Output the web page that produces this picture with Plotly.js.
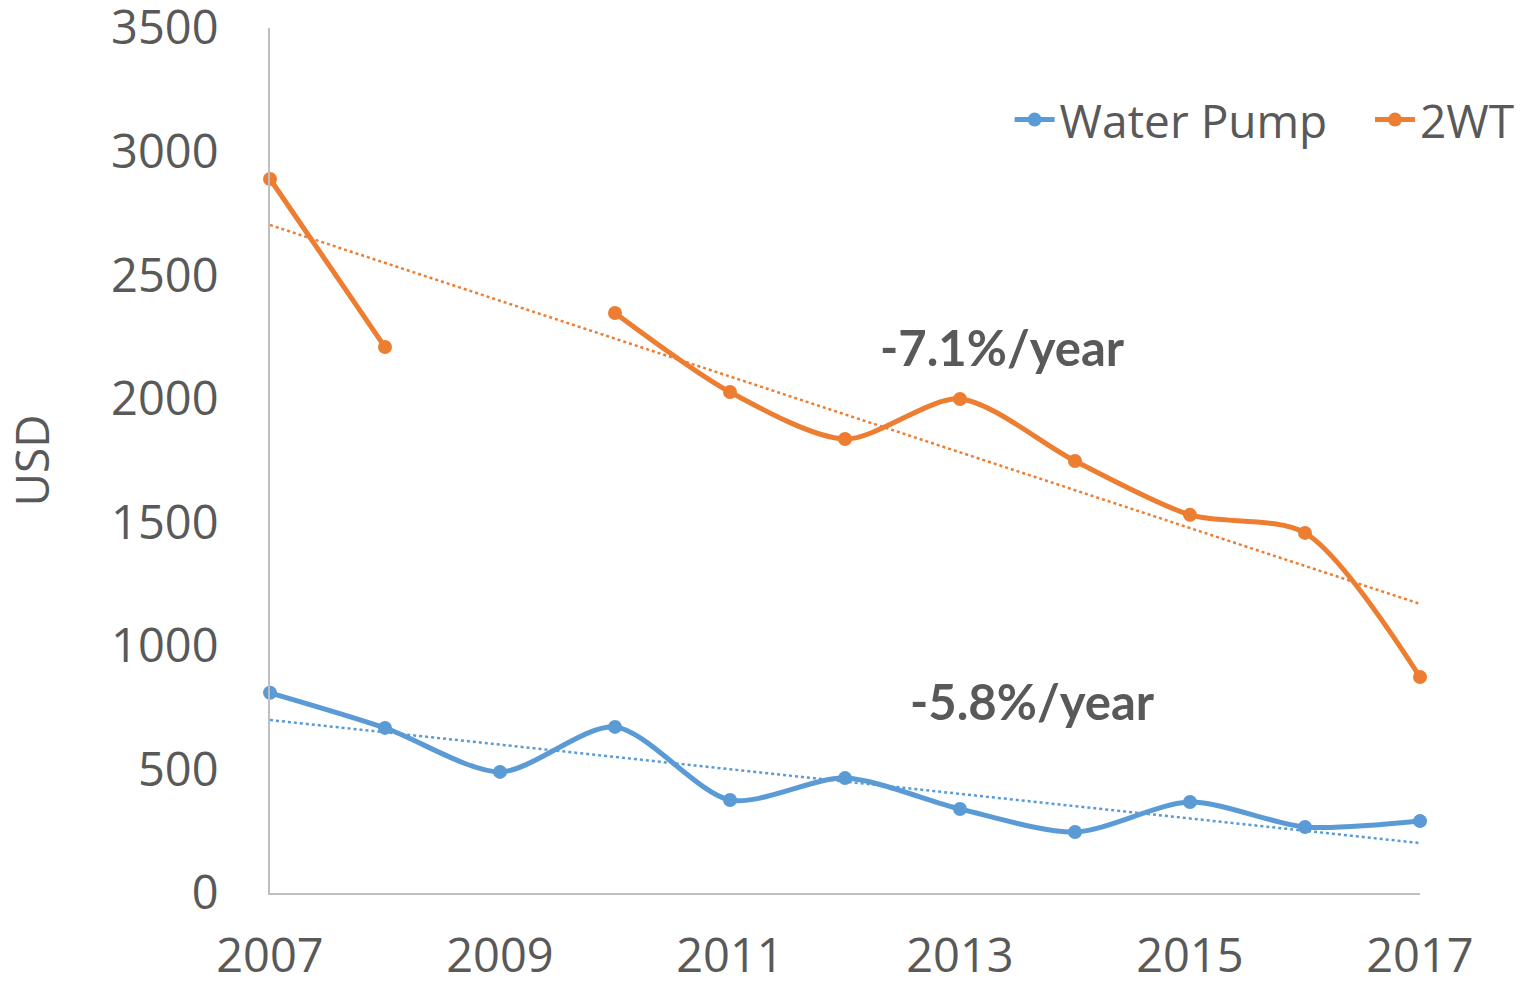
<!DOCTYPE html>
<html>
<head>
<meta charset="utf-8">
<script src="https://cdn.plot.ly/plotly-3.0.1.min.js"></script>
<style>
  html, body { margin: 0; padding: 0; background: #fff; }
  #chart { width: 1530px; height: 985px; }
</style>
</head>
<body>
<div id="chart"></div>
<script>
var years = [2007, 2008, 2009, 2010, 2011, 2012, 2013, 2014, 2015, 2016, 2017];
var pumpPrice = [810, 668, 490, 672, 376, 465, 340, 247, 368, 267, 291];
var twtPrice = [2889, 2209, null, 2347, 2027, 1837, 1999, 1748, 1530, 1457, 874];

var trendYears = [2007, 2017];
var pumpTrend = [700, 202];
var twtTrend = [2703, 1170];

var xTicks = [2007, 2009, 2011, 2013, 2015, 2017];
var yTicks = [0, 500, 1000, 1500, 2000, 2500, 3000, 3500];

var blue = '#5B9BD5';
var orange = '#ED7D31';
var grey = '#595959';

var trace1 = {
  x: years,
  y: pumpPrice,
  type: 'scatter',
  mode: 'lines+markers',
  name: 'Water Pump',
  legend: 'legend',
  line: {color: blue, width: 5, shape: 'spline', smoothing: 0.8},
  marker: {color: blue, size: 14},
  cliponaxis: false,
  hoverinfo: 'none'
};

var trace2 = {
  x: years,
  y: twtPrice,
  type: 'scatter',
  mode: 'lines+markers',
  name: '2WT',
  legend: 'legend2',
  connectgaps: false,
  line: {color: orange, width: 5, shape: 'spline', smoothing: 0.8},
  marker: {color: orange, size: 14},
  cliponaxis: false,
  hoverinfo: 'none'
};

var trend1 = {
  x: trendYears,
  y: pumpTrend,
  type: 'scatter',
  mode: 'lines',
  showlegend: false,
  line: {color: blue, width: 2.5, dash: 'dot'},
  hoverinfo: 'none'
};

var trend2 = {
  x: trendYears,
  y: twtTrend,
  type: 'scatter',
  mode: 'lines',
  showlegend: false,
  line: {color: orange, width: 2.5, dash: 'dot'},
  hoverinfo: 'none'
};

var data = [trend1, trend2, trace1, trace2];

// plot area 270..1420 px wide inside a 1260 px wide margin box
var layout = {
  width: 1530,
  height: 985,
  paper_bgcolor: '#fff',
  plot_bgcolor: '#fff',
  font: {family: 'Open Sans, sans-serif', color: grey},
  margin: {l: 270, r: 0, t: 28, b: 92, pad: 0},
  showlegend: true,
  legend: {
    orientation: 'h',
    x: 0.587, xanchor: 'left',
    y: 0.894, yanchor: 'middle',
    font: {size: 46, color: grey},
    itemwidth: 40
  },
  legend2: {
    orientation: 'h',
    x: 0.873, xanchor: 'left',
    y: 0.894, yanchor: 'middle',
    font: {size: 46, color: grey},
    itemwidth: 40
  },
  xaxis: {
    domain: [0, 1150 / 1260],
    range: [2007, 2017],
    tickvals: xTicks,
    ticktext: xTicks.map(String),
    tickfont: {size: 47, color: grey},
    showgrid: false,
    zeroline: false,
    showline: true,
    linecolor: '#BFBFBF',
    linewidth: 2,
    ticks: '',
    ticklabelstandoff: 21,
    automargin: false
  },
  yaxis: {
    range: [0, 3500],
    tickvals: yTicks,
    ticktext: yTicks.map(String),
    tickfont: {size: 47, color: grey},
    showgrid: false,
    zeroline: false,
    showline: true,
    linecolor: '#BFBFBF',
    linewidth: 2,
    ticks: '',
    ticklabelstandoff: 40,
    ticklabeloverflow: 'allow',
    automargin: false,
    title: {text: 'USD', font: {size: 46, color: grey}, standoff: 50}
  },
  annotations: [
    {x: 2013.37, y: 2210, xref: 'x', yref: 'y', text: '<b>-7.1%/year</b>', showarrow: false,
     font: {family: 'Lato, sans-serif', size: 49, color: grey}},
    {x: 2013.63, y: 775, xref: 'x', yref: 'y', text: '<b>-5.8%/year</b>', showarrow: false,
     font: {family: 'Lato, sans-serif', size: 49, color: grey}}
  ]
};

Plotly.newPlot('chart', data, layout, {staticPlot: true});
</script>
</body>
</html>
